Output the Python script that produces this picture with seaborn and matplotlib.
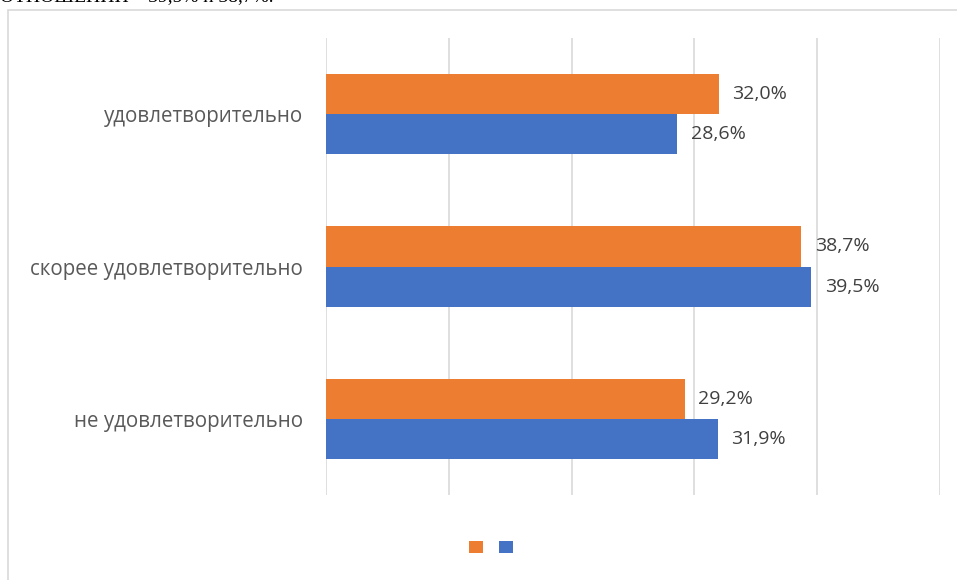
import matplotlib
matplotlib.use("Agg")
import matplotlib.pyplot as plt
from matplotlib.patches import Rectangle, Patch
import seaborn as sns
import pandas as pd

categories = ["удовлетворительно", "скорее удовлетворительно", "не удовлетворительно"]
series_names = ["Серия 1", "Серия 2"]
orange_vals = [32.0, 38.7, 29.2]
blue_vals = [28.6, 39.5, 31.9]
colors = ["#ED7D31", "#4472C4"]

rows = []
for c, v in zip(categories, orange_vals):
    rows.append({"cat": c, "series": series_names[0], "val": v})
for c, v in zip(categories, blue_vals):
    rows.append({"cat": c, "series": series_names[1], "val": v})
df = pd.DataFrame(rows)

sns.set_style("white")
plt.rcParams['font.family'] = ['Open Sans', 'DejaVu Sans']

W, H = 957, 580
fig = plt.figure(figsize=(W / 100, H / 100), dpi=100)
ax = fig.add_axes([326 / W, 1 - 495 / H, (940 - 326) / W, (495 - 38) / H])

sns.barplot(data=df, y="cat", x="val", hue="series", order=categories,
            hue_order=series_names, palette=colors, orient="h",
            width=0.526, ax=ax, legend=False, saturation=1, linewidth=0)

ax.set_xlim(0, 50)
ax.set_xticks([0, 10, 20, 30, 40, 50])
ax.set_xticklabels([])
ax.grid(axis="x", color="#D9D9D9", linewidth=1.2)
ax.set_axisbelow(True)
for s in ax.spines.values():
    s.set_visible(False)
ax.tick_params(axis="both", length=0)
ax.tick_params(axis="y", pad=16.5, labelsize=14.8, labelcolor="#595959")
ax.set_xlabel("")
ax.set_ylabel("")

for cont in ax.containers:
    for bar in cont:
        w = bar.get_width()
        y = bar.get_y() + bar.get_height() / 2
        ax.text(w + 1.1, y, f"{w:.1f}%".replace(".", ","), va="center", ha="left",
                fontsize=14, color="#404040")

handles = [Patch(facecolor=c, edgecolor="none") for c in colors]
fig.legend(handles, ["", ""], loc="center", bbox_to_anchor=(491 / W, 1 - 548 / H),
           ncol=2, frameon=False, handlelength=1.0, handleheight=1.0,
           handletextpad=0.0, columnspacing=1.2)

# outer chart border (clipped by image edges)
fig.add_artist(Rectangle((8 / W, -0.2), 1.2, 1.2 - 10 / H,
                         transform=fig.transFigure, fill=False,
                         edgecolor="#D9D9D9", linewidth=1.2))

# cut-off document text above the chart
fig.text(0.0, 1 - 1 / H, "ОТНОШЕНИИ – 39,5% и 38,7%.", va="baseline", ha="left",
         fontsize=14, family="Liberation Serif", color="black")

fig.savefig("out.png", dpi=100)
